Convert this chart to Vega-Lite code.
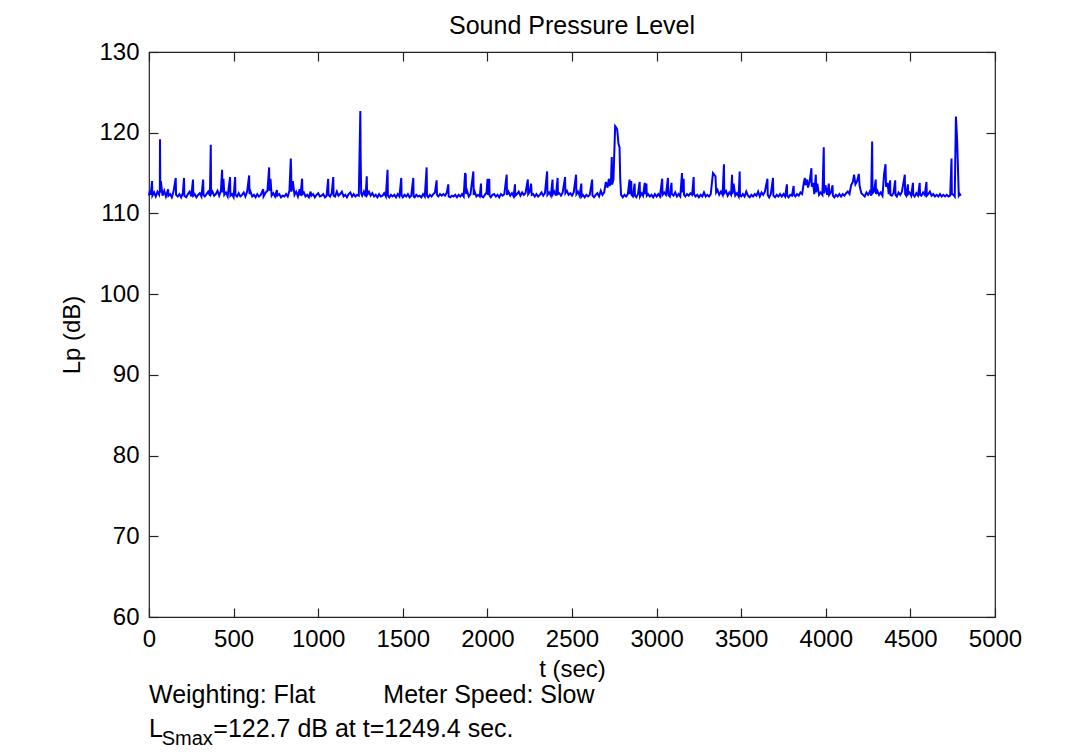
{
  "$schema": "https://vega.github.io/schema/vega-lite/v6.json",
  "autosize": {"type": "none"},
  "width": 846,
  "height": 565,
  "padding": {"left": 149, "top": 52, "right": 91, "bottom": 137},
  "background": "white",
  "title": {"text": "Sound Pressure Level", "font": "Liberation Sans", "fontSize": 25, "fontWeight": "normal", "color": "black", "offset": 1, "anchor": "middle"},
  "config": {
    "view": {"stroke": "#222222", "strokeWidth": 1.2},
    "axis": {"grid": false, "domain": false, "tickColor": "#222222", "tickSize": -9, "tickWidth": 1.2, "labelFont": "Liberation Sans", "labelFontSize": 24, "labelColor": "black", "titleFont": "Liberation Sans", "titleFontSize": 24, "titleFontWeight": "normal", "titleColor": "black", "labelFlush": false, "labelOverlap": false}
  },
  "datasets": {
    "spl": [
      {"t":0,"L":112.2},{"t":5,"L":112.8},{"t":10,"L":112.3},{"t":18,"L":114.0},{"t":20,"L":112.2},{"t":30,"L":112.6},{"t":40,"L":112.1},{"t":50,"L":112.7},{"t":60,"L":112.3},{"t":64,"L":112.9},{"t":65,"L":119.2},{"t":67,"L":112.6},{"t":70,"L":114.0},{"t":80,"L":112.2},{"t":90,"L":112.8},{"t":100,"L":112.1},{"t":113,"L":113.0},{"t":115,"L":112.2},{"t":125,"L":112.4},{"t":135,"L":112.0},{"t":145,"L":112.7},{"t":158,"L":114.4},{"t":160,"L":112.3},{"t":170,"L":112.1},{"t":180,"L":112.4},{"t":190,"L":112.0},{"t":200,"L":112.5},{"t":207,"L":114.4},{"t":209,"L":112.2},{"t":220,"L":112.0},{"t":230,"L":112.4},{"t":240,"L":112.7},{"t":250,"L":112.1},{"t":260,"L":114.2},{"t":262,"L":112.2},{"t":270,"L":112.4},{"t":280,"L":112.0},{"t":290,"L":112.3},{"t":300,"L":112.5},{"t":310,"L":112.1},{"t":320,"L":114.2},{"t":322,"L":112.3},{"t":330,"L":112.1},{"t":340,"L":112.4},{"t":350,"L":112.7},{"t":360,"L":112.2},{"t":365,"L":118.5},{"t":367,"L":112.4},{"t":375,"L":112.7},{"t":385,"L":112.2},{"t":395,"L":112.4},{"t":405,"L":112.8},{"t":415,"L":112.2},{"t":425,"L":112.8},{"t":432,"L":115.4},{"t":434,"L":112.6},{"t":440,"L":114.3},{"t":445,"L":112.3},{"t":455,"L":112.6},{"t":465,"L":112.1},{"t":479,"L":114.5},{"t":481,"L":112.2},{"t":490,"L":112.4},{"t":500,"L":112.0},{"t":509,"L":114.5},{"t":511,"L":112.3},{"t":520,"L":112.1},{"t":530,"L":112.5},{"t":540,"L":112.1},{"t":550,"L":112.3},{"t":560,"L":112.6},{"t":570,"L":112.1},{"t":580,"L":112.7},{"t":592,"L":114.7},{"t":594,"L":112.4},{"t":600,"L":112.7},{"t":610,"L":112.1},{"t":620,"L":112.3},{"t":630,"L":112.0},{"t":640,"L":112.4},{"t":650,"L":112.1},{"t":660,"L":112.3},{"t":675,"L":113.0},{"t":677,"L":112.1},{"t":690,"L":112.6},{"t":700,"L":112.8},{"t":710,"L":115.7},{"t":712,"L":112.8},{"t":718,"L":114.3},{"t":725,"L":112.2},{"t":735,"L":112.5},{"t":745,"L":112.1},{"t":756,"L":112.9},{"t":758,"L":112.2},{"t":770,"L":112.4},{"t":780,"L":112.0},{"t":790,"L":112.2},{"t":800,"L":112.1},{"t":810,"L":112.4},{"t":820,"L":112.1},{"t":830,"L":112.8},{"t":838,"L":116.8},{"t":840,"L":115.5},{"t":842,"L":112.7},{"t":850,"L":114.0},{"t":860,"L":112.3},{"t":870,"L":112.7},{"t":880,"L":112.1},{"t":890,"L":113.0},{"t":895,"L":112.2},{"t":905,"L":114.3},{"t":907,"L":112.4},{"t":915,"L":112.6},{"t":925,"L":112.1},{"t":935,"L":112.3},{"t":945,"L":112.0},{"t":955,"L":112.7},{"t":960,"L":112.2},{"t":970,"L":112.4},{"t":980,"L":112.0},{"t":990,"L":112.3},{"t":1000,"L":112.5},{"t":1010,"L":112.1},{"t":1020,"L":112.2},{"t":1030,"L":112.4},{"t":1040,"L":112.0},{"t":1050,"L":112.2},{"t":1059,"L":114.3},{"t":1061,"L":112.3},{"t":1070,"L":112.1},{"t":1080,"L":112.5},{"t":1089,"L":114.5},{"t":1091,"L":112.2},{"t":1100,"L":112.1},{"t":1110,"L":112.7},{"t":1120,"L":112.2},{"t":1130,"L":112.4},{"t":1140,"L":112.7},{"t":1150,"L":112.1},{"t":1160,"L":112.3},{"t":1170,"L":112.0},{"t":1180,"L":112.4},{"t":1190,"L":112.6},{"t":1200,"L":112.1},{"t":1210,"L":112.4},{"t":1220,"L":112.1},{"t":1230,"L":112.3},{"t":1240,"L":112.2},{"t":1249,"L":122.7},{"t":1251,"L":117.0},{"t":1254,"L":112.5},{"t":1260,"L":112.2},{"t":1270,"L":112.7},{"t":1280,"L":112.1},{"t":1287,"L":114.6},{"t":1289,"L":112.3},{"t":1300,"L":112.7},{"t":1310,"L":112.2},{"t":1320,"L":112.5},{"t":1330,"L":112.1},{"t":1340,"L":112.3},{"t":1350,"L":112.0},{"t":1360,"L":112.4},{"t":1370,"L":112.1},{"t":1380,"L":112.2},{"t":1390,"L":112.5},{"t":1400,"L":112.1},{"t":1410,"L":115.4},{"t":1412,"L":112.2},{"t":1420,"L":112.0},{"t":1430,"L":112.3},{"t":1440,"L":112.1},{"t":1450,"L":112.3},{"t":1460,"L":112.0},{"t":1470,"L":112.4},{"t":1480,"L":112.1},{"t":1491,"L":114.4},{"t":1493,"L":112.2},{"t":1500,"L":112.0},{"t":1510,"L":112.3},{"t":1520,"L":112.1},{"t":1530,"L":112.4},{"t":1540,"L":112.0},{"t":1550,"L":112.2},{"t":1562,"L":114.4},{"t":1564,"L":112.1},{"t":1570,"L":112.0},{"t":1580,"L":112.3},{"t":1590,"L":112.1},{"t":1600,"L":112.2},{"t":1610,"L":112.0},{"t":1620,"L":112.4},{"t":1630,"L":112.1},{"t":1641,"L":115.7},{"t":1643,"L":112.2},{"t":1650,"L":112.0},{"t":1660,"L":112.3},{"t":1670,"L":112.1},{"t":1680,"L":112.4},{"t":1690,"L":112.6},{"t":1700,"L":114.1},{"t":1702,"L":112.3},{"t":1710,"L":112.1},{"t":1720,"L":112.4},{"t":1730,"L":112.2},{"t":1740,"L":112.4},{"t":1750,"L":112.2},{"t":1760,"L":112.6},{"t":1769,"L":113.6},{"t":1771,"L":112.1},{"t":1780,"L":112.0},{"t":1790,"L":112.2},{"t":1800,"L":112.1},{"t":1810,"L":112.3},{"t":1820,"L":112.0},{"t":1830,"L":112.3},{"t":1840,"L":112.1},{"t":1850,"L":112.4},{"t":1860,"L":112.1},{"t":1868,"L":115.0},{"t":1872,"L":114.8},{"t":1874,"L":112.4},{"t":1880,"L":112.8},{"t":1890,"L":112.1},{"t":1900,"L":112.4},{"t":1917,"L":115.2},{"t":1919,"L":112.3},{"t":1925,"L":112.7},{"t":1935,"L":112.1},{"t":1945,"L":112.3},{"t":1955,"L":112.1},{"t":1962,"L":113.7},{"t":1964,"L":112.2},{"t":1975,"L":112.0},{"t":1985,"L":112.3},{"t":1995,"L":112.6},{"t":2001,"L":114.3},{"t":2003,"L":112.3},{"t":2011,"L":114.3},{"t":2013,"L":112.2},{"t":2020,"L":112.0},{"t":2030,"L":112.3},{"t":2040,"L":112.4},{"t":2050,"L":112.1},{"t":2060,"L":112.3},{"t":2070,"L":112.0},{"t":2080,"L":112.4},{"t":2090,"L":112.2},{"t":2100,"L":112.4},{"t":2114,"L":114.8},{"t":2116,"L":112.3},{"t":2125,"L":112.7},{"t":2135,"L":112.2},{"t":2145,"L":112.5},{"t":2155,"L":112.1},{"t":2163,"L":113.6},{"t":2165,"L":112.2},{"t":2175,"L":112.4},{"t":2185,"L":112.7},{"t":2195,"L":112.2},{"t":2205,"L":112.6},{"t":2215,"L":112.3},{"t":2225,"L":112.5},{"t":2239,"L":114.2},{"t":2241,"L":112.4},{"t":2250,"L":112.7},{"t":2258,"L":113.7},{"t":2262,"L":112.3},{"t":2270,"L":112.4},{"t":2280,"L":112.1},{"t":2290,"L":112.4},{"t":2300,"L":112.1},{"t":2310,"L":112.3},{"t":2320,"L":112.6},{"t":2330,"L":112.2},{"t":2340,"L":112.5},{"t":2353,"L":115.2},{"t":2355,"L":112.3},{"t":2365,"L":112.6},{"t":2375,"L":112.2},{"t":2385,"L":114.2},{"t":2387,"L":112.4},{"t":2395,"L":112.7},{"t":2405,"L":112.2},{"t":2415,"L":114.4},{"t":2417,"L":112.4},{"t":2425,"L":112.5},{"t":2435,"L":112.2},{"t":2445,"L":112.6},{"t":2459,"L":114.5},{"t":2461,"L":112.5},{"t":2470,"L":112.8},{"t":2480,"L":112.3},{"t":2490,"L":112.5},{"t":2500,"L":112.2},{"t":2510,"L":112.6},{"t":2524,"L":114.8},{"t":2526,"L":112.4},{"t":2535,"L":112.7},{"t":2545,"L":112.2},{"t":2555,"L":113.7},{"t":2557,"L":112.1},{"t":2565,"L":112.3},{"t":2575,"L":112.0},{"t":2585,"L":112.3},{"t":2595,"L":112.1},{"t":2605,"L":112.3},{"t":2619,"L":114.2},{"t":2621,"L":112.2},{"t":2630,"L":112.0},{"t":2640,"L":112.3},{"t":2650,"L":112.5},{"t":2660,"L":112.1},{"t":2670,"L":112.8},{"t":2680,"L":112.3},{"t":2690,"L":112.6},{"t":2700,"L":113.9},{"t":2710,"L":113.2},{"t":2718,"L":114.3},{"t":2722,"L":113.4},{"t":2730,"L":113.8},{"t":2735,"L":117.0},{"t":2737,"L":113.6},{"t":2745,"L":114.2},{"t":2755,"L":120.8},{"t":2762,"L":120.6},{"t":2767,"L":120.4},{"t":2775,"L":118.6},{"t":2781,"L":118.2},{"t":2785,"L":114.3},{"t":2790,"L":112.3},{"t":2800,"L":112.0},{"t":2810,"L":112.3},{"t":2820,"L":112.1},{"t":2830,"L":112.4},{"t":2840,"L":114.2},{"t":2842,"L":112.4},{"t":2850,"L":114.0},{"t":2852,"L":112.3},{"t":2860,"L":112.1},{"t":2870,"L":113.7},{"t":2872,"L":112.2},{"t":2880,"L":112.0},{"t":2890,"L":112.4},{"t":2900,"L":113.9},{"t":2902,"L":112.1},{"t":2912,"L":112.5},{"t":2920,"L":112.2},{"t":2930,"L":113.8},{"t":2932,"L":112.4},{"t":2940,"L":113.7},{"t":2942,"L":112.2},{"t":2950,"L":112.4},{"t":2960,"L":112.1},{"t":2970,"L":112.3},{"t":2980,"L":112.0},{"t":2990,"L":112.4},{"t":3000,"L":112.1},{"t":3010,"L":112.4},{"t":3020,"L":112.1},{"t":3033,"L":114.3},{"t":3035,"L":112.3},{"t":3045,"L":112.6},{"t":3055,"L":112.3},{"t":3067,"L":114.4},{"t":3069,"L":112.3},{"t":3078,"L":112.1},{"t":3088,"L":113.8},{"t":3090,"L":112.4},{"t":3100,"L":112.2},{"t":3110,"L":112.6},{"t":3120,"L":112.1},{"t":3130,"L":112.4},{"t":3140,"L":112.1},{"t":3150,"L":115.0},{"t":3152,"L":112.6},{"t":3160,"L":114.3},{"t":3162,"L":112.3},{"t":3170,"L":112.1},{"t":3180,"L":112.4},{"t":3190,"L":112.2},{"t":3200,"L":112.5},{"t":3210,"L":112.3},{"t":3219,"L":114.5},{"t":3221,"L":112.4},{"t":3230,"L":112.1},{"t":3240,"L":112.3},{"t":3250,"L":112.0},{"t":3260,"L":112.3},{"t":3270,"L":112.1},{"t":3280,"L":112.6},{"t":3290,"L":112.1},{"t":3300,"L":112.3},{"t":3310,"L":112.1},{"t":3320,"L":112.4},{"t":3333,"L":115.0},{"t":3340,"L":114.8},{"t":3348,"L":114.6},{"t":3352,"L":112.6},{"t":3360,"L":112.9},{"t":3370,"L":112.3},{"t":3380,"L":112.7},{"t":3390,"L":112.3},{"t":3398,"L":116.1},{"t":3400,"L":112.5},{"t":3410,"L":112.8},{"t":3420,"L":112.2},{"t":3430,"L":112.6},{"t":3440,"L":112.3},{"t":3446,"L":114.8},{"t":3448,"L":112.4},{"t":3455,"L":113.7},{"t":3465,"L":112.2},{"t":3475,"L":112.5},{"t":3485,"L":112.1},{"t":3491,"L":115.2},{"t":3493,"L":112.2},{"t":3500,"L":112.1},{"t":3510,"L":112.4},{"t":3520,"L":112.1},{"t":3530,"L":112.7},{"t":3540,"L":112.2},{"t":3550,"L":112.0},{"t":3560,"L":112.3},{"t":3570,"L":112.1},{"t":3580,"L":112.4},{"t":3590,"L":112.2},{"t":3600,"L":112.7},{"t":3610,"L":112.1},{"t":3620,"L":112.6},{"t":3630,"L":112.3},{"t":3640,"L":112.7},{"t":3655,"L":114.3},{"t":3657,"L":112.3},{"t":3665,"L":112.0},{"t":3675,"L":112.4},{"t":3688,"L":114.4},{"t":3690,"L":112.2},{"t":3700,"L":112.0},{"t":3710,"L":112.3},{"t":3720,"L":112.1},{"t":3730,"L":112.4},{"t":3740,"L":112.1},{"t":3750,"L":112.4},{"t":3760,"L":112.1},{"t":3770,"L":113.6},{"t":3772,"L":112.2},{"t":3780,"L":112.0},{"t":3790,"L":112.3},{"t":3800,"L":112.2},{"t":3810,"L":113.4},{"t":3812,"L":112.3},{"t":3820,"L":112.1},{"t":3830,"L":112.4},{"t":3840,"L":112.2},{"t":3850,"L":112.6},{"t":3860,"L":112.4},{"t":3870,"L":113.8},{"t":3876,"L":114.4},{"t":3880,"L":113.5},{"t":3890,"L":114.2},{"t":3895,"L":113.2},{"t":3905,"L":114.0},{"t":3915,"L":115.6},{"t":3917,"L":113.3},{"t":3925,"L":113.8},{"t":3932,"L":112.4},{"t":3941,"L":114.8},{"t":3943,"L":112.6},{"t":3950,"L":113.7},{"t":3960,"L":112.3},{"t":3970,"L":112.6},{"t":3980,"L":112.3},{"t":3988,"L":118.2},{"t":3990,"L":112.5},{"t":3998,"L":113.5},{"t":4008,"L":112.3},{"t":4018,"L":113.7},{"t":4020,"L":112.3},{"t":4030,"L":112.6},{"t":4040,"L":113.5},{"t":4042,"L":112.2},{"t":4050,"L":112.0},{"t":4060,"L":112.3},{"t":4070,"L":112.1},{"t":4080,"L":112.4},{"t":4090,"L":112.1},{"t":4100,"L":112.4},{"t":4110,"L":112.2},{"t":4120,"L":112.5},{"t":4130,"L":112.7},{"t":4140,"L":112.4},{"t":4150,"L":113.5},{"t":4160,"L":113.9},{"t":4167,"L":114.8},{"t":4175,"L":113.6},{"t":4185,"L":114.0},{"t":4195,"L":114.9},{"t":4200,"L":113.4},{"t":4210,"L":112.5},{"t":4220,"L":112.3},{"t":4230,"L":112.1},{"t":4240,"L":112.6},{"t":4250,"L":112.3},{"t":4260,"L":112.7},{"t":4268,"L":112.2},{"t":4274,"L":118.9},{"t":4276,"L":112.5},{"t":4285,"L":112.7},{"t":4295,"L":114.2},{"t":4297,"L":112.4},{"t":4305,"L":112.8},{"t":4315,"L":112.3},{"t":4325,"L":112.6},{"t":4335,"L":112.2},{"t":4345,"L":115.0},{"t":4353,"L":116.1},{"t":4356,"L":113.3},{"t":4365,"L":113.8},{"t":4372,"L":112.4},{"t":4380,"L":114.1},{"t":4382,"L":112.3},{"t":4390,"L":112.2},{"t":4400,"L":112.5},{"t":4410,"L":114.1},{"t":4412,"L":112.3},{"t":4420,"L":112.1},{"t":4430,"L":112.6},{"t":4440,"L":112.3},{"t":4450,"L":112.7},{"t":4467,"L":114.8},{"t":4469,"L":112.4},{"t":4475,"L":112.2},{"t":4485,"L":113.6},{"t":4487,"L":112.4},{"t":4495,"L":112.6},{"t":4505,"L":112.2},{"t":4515,"L":113.8},{"t":4517,"L":112.3},{"t":4525,"L":112.1},{"t":4535,"L":112.5},{"t":4545,"L":112.2},{"t":4555,"L":113.8},{"t":4557,"L":112.3},{"t":4565,"L":112.2},{"t":4575,"L":112.6},{"t":4585,"L":112.3},{"t":4595,"L":113.9},{"t":4597,"L":112.2},{"t":4605,"L":112.4},{"t":4615,"L":112.7},{"t":4625,"L":112.2},{"t":4635,"L":112.4},{"t":4645,"L":112.1},{"t":4655,"L":112.3},{"t":4665,"L":112.1},{"t":4675,"L":112.4},{"t":4685,"L":112.1},{"t":4695,"L":112.3},{"t":4705,"L":112.1},{"t":4715,"L":112.3},{"t":4725,"L":112.1},{"t":4735,"L":112.2},{"t":4743,"L":116.8},{"t":4745,"L":112.4},{"t":4755,"L":112.3},{"t":4762,"L":112.1},{"t":4769,"L":122.0},{"t":4776,"L":119.2},{"t":4786,"L":112.2},{"t":4792,"L":112.4},{"t":4798,"L":112.2}
    ],
    "one": [{}]
  },
  "resolve": {"axis": {"x": "independent", "y": "independent"}},
  "layer": [
    {
      "data": {"name": "spl"},
      "mark": {"type": "line", "color": "#0000ff", "strokeWidth": 2},
      "encoding": {
        "x": {"field": "t", "type": "quantitative", "scale": {"domain": [0, 5000], "nice": false, "zero": false},
              "axis": {"orient": "bottom", "title": "t (sec)", "values": [0,500,1000,1500,2000,2500,3000,3500,4000,4500,5000], "format": "d", "labelPadding": 19, "titlePadding": 6}},
        "y": {"field": "L", "type": "quantitative", "scale": {"domain": [60, 130], "nice": false, "zero": false},
              "axis": {"orient": "left", "title": "Lp (dB)", "values": [60,70,80,90,100,110,120,130], "format": "d", "labelPadding": 19, "titlePadding": 14}}
      }
    },
    {
      "data": {"name": "spl"},
      "mark": {"type": "line", "opacity": 0},
      "encoding": {
        "x": {"field": "t", "type": "quantitative", "axis": {"orient": "top", "title": null, "labels": false, "values": [0,500,1000,1500,2000,2500,3000,3500,4000,4500,5000]}},
        "y": {"field": "L", "type": "quantitative", "axis": {"orient": "right", "title": null, "labels": false, "values": [60,70,80,90,100,110,120,130]}}
      }
    },
    {
      "data": {"name": "one"},
      "mark": {"type": "text", "text": "Weighting: Flat", "align": "left", "baseline": "alphabetic", "font": "Liberation Sans", "fontSize": 25, "color": "black"},
      "encoding": {"x": {"datum": 0, "type": "quantitative", "axis": null}, "y": {"datum": 49.35, "type": "quantitative", "axis": null}}
    },
    {
      "data": {"name": "one"},
      "mark": {"type": "text", "text": "Meter Speed: Slow", "align": "left", "baseline": "alphabetic", "font": "Liberation Sans", "fontSize": 25, "color": "black"},
      "encoding": {"x": {"datum": 1385, "type": "quantitative", "axis": null}, "y": {"datum": 49.35, "type": "quantitative", "axis": null}}
    },
    {
      "data": {"name": "one"},
      "mark": {"type": "text", "text": "L", "align": "left", "baseline": "alphabetic", "font": "Liberation Sans", "fontSize": 25, "color": "black"},
      "encoding": {"x": {"datum": 0, "type": "quantitative", "axis": null}, "y": {"datum": 45.13, "type": "quantitative", "axis": null}}
    },
    {
      "data": {"name": "one"},
      "mark": {"type": "text", "text": "Smax", "align": "left", "baseline": "alphabetic", "font": "Liberation Sans", "fontSize": 20, "color": "black"},
      "encoding": {"x": {"datum": 75, "type": "quantitative", "axis": null}, "y": {"datum": 44.14, "type": "quantitative", "axis": null}}
    },
    {
      "data": {"name": "one"},
      "mark": {"type": "text", "text": "=122.7 dB at t=1249.4 sec.", "align": "left", "baseline": "alphabetic", "font": "Liberation Sans", "fontSize": 25, "color": "black"},
      "encoding": {"x": {"datum": 380, "type": "quantitative", "axis": null}, "y": {"datum": 45.13, "type": "quantitative", "axis": null}}
    }
  ]
}
